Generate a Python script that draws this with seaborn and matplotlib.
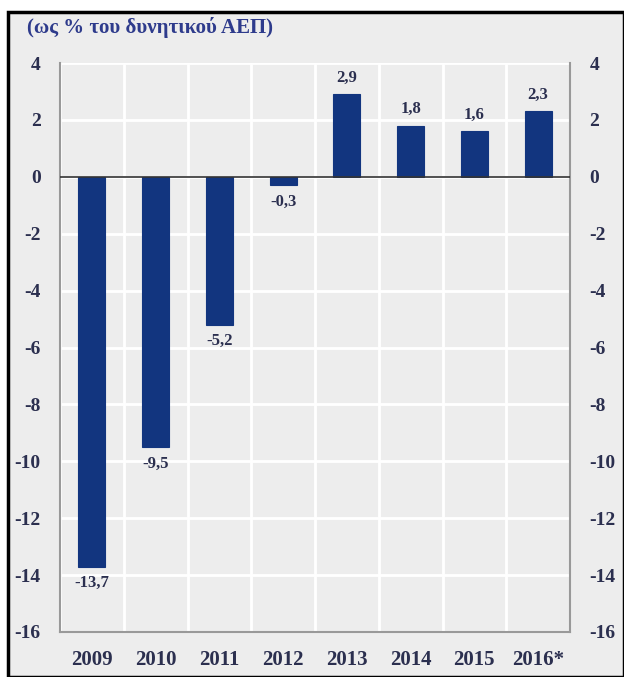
import matplotlib
matplotlib.use("Agg")
import matplotlib.pyplot as plt
import seaborn as sns
import pandas as pd
from matplotlib.patches import Rectangle

# data
years = ["2009", "2010", "2011", "2012", "2013", "2014", "2015", "2016*"]
balance = [-13.7, -9.5, -5.2, -0.3, 2.9, 1.8, 1.6, 2.3]
labels = ["-13,7", "-9,5", "-5,2", "-0,3", "2,9", "1,8", "1,6", "2,3"]
yticks = [4, 2, 0, -2, -4, -6, -8, -10, -12, -14, -16]

df = pd.DataFrame({"year": years, "value": balance})

sns.set_style("white")
plt.rcParams["font.family"] = ["Liberation Serif", "DejaVu Serif"]
plt.rcParams["font.weight"] = "bold"

bg = "#ededed"
navy = "#12357f"
txt = "#2b2f4f"

fig = plt.figure(figsize=(6.24, 6.77), dpi=100)
fig.patch.set_facecolor("white")
# grey panel with black frame
fig.patches.append(Rectangle((8 / 624, 0), 1 - 8 / 624, 1 - 12 / 677,
                             transform=fig.transFigure, facecolor=bg,
                             edgecolor="black", lw=2.5, zorder=-10))

ax = fig.add_axes([60 / 624, 1 - 632 / 677, 510 / 624, 569 / 677])
ax.set_facecolor(bg)

sns.barplot(data=df, x="year", y="value", color=navy, width=0.42,
            saturation=1, edgecolor=navy, linewidth=0.8, ax=ax, zorder=3)

ax.set_ylim(-16, 4)
ax.set_xlim(-0.5, len(years) - 0.5)
ax.set_yticks(yticks)
ax.set_yticklabels([str(t) for t in yticks])
ax.set_xlabel("")
ax.set_ylabel("")

# white grid: horizontal at ticks, vertical at category boundaries
for t in yticks:
    ax.axhline(t, color="white", lw=2, zorder=1)
for i in range(len(years) + 1):
    ax.axvline(i - 0.5, color="white", lw=2, zorder=1)
ax.axhline(0, color="#333333", lw=1.2, zorder=4)

# value labels
for i, (v, s) in enumerate(zip(balance, labels)):
    off = 0.3 if v > 0 else -0.3
    ax.text(i, v + off, s, ha="center", va="bottom" if v > 0 else "top",
            fontsize=12, fontweight="bold", color=txt, zorder=5)

for side in ["top"]:
    ax.spines[side].set_visible(False)
for side in ["left", "right", "bottom"]:
    ax.spines[side].set_color("#999999")
    ax.spines[side].set_linewidth(1.5)

ax.tick_params(axis="y", length=0, labelsize=14, labelcolor=txt,
               left=True, right=True, labelleft=True, labelright=True, pad=14)
ax.set_xticks(range(len(years)))
ax.set_xticklabels(years)
ax.tick_params(axis="x", length=0, labelsize=15, labelcolor=txt, pad=13)
ax.set_xticks([i - 0.5 for i in range(len(years) + 1)], minor=True)
ax.tick_params(axis="x", which="minor", direction="in", length=5,
               color="#777777", width=1.2)

fig.text(27 / 624, 1 - 28 / 677, "(ως % του δυνητικού ΑΕΠ)", fontsize=15,
         fontweight="bold", color="#2e3b8c", va="center", ha="left")

fig.savefig("out.png", dpi=100, facecolor=fig.get_facecolor())
